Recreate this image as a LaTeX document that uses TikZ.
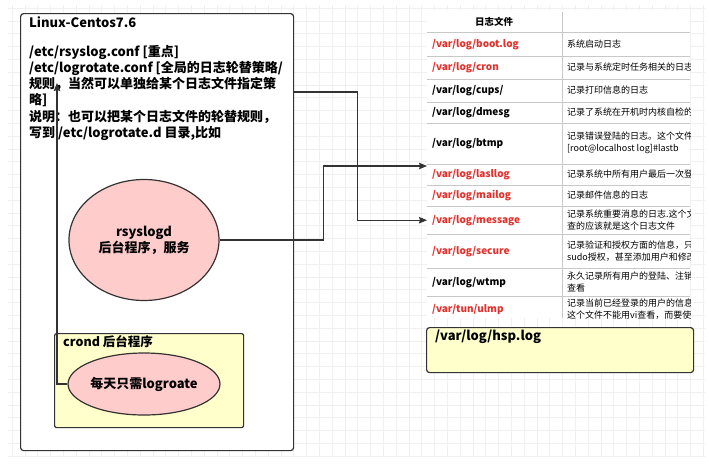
\documentclass[tikz,border=0pt]{standalone}
\usepackage{fontspec}
\setmainfont{Noto Sans CJK SC}
\usetikzlibrary{arrows.meta,positioning,shapes.geometric}

\definecolor{boxline}{HTML}{333333}
\definecolor{logred}{HTML}{E3302B}
\definecolor{pinkfill}{HTML}{FFCCCC}
\definecolor{notefill}{HTML}{FFFFCC}
\definecolor{rowline}{HTML}{C8C8C8}

\begin{document}
\begin{tikzpicture}[x = 1pt, y = -1pt,
  frame/.style = {draw = boxline, line width = 1.2pt, rounded corners = 3pt, anchor = north west, inner sep = 0pt},
  daemon/.style = {draw = boxline, fill = pinkfill, shape = ellipse, line width = 1.2pt, inner sep = 0pt, font = \bfseries\fontsize{13}{16}\selectfont, align = center},
  link/.style = {draw = boxline, line width = 1.1pt, -{Stealth[length = 8pt, width = 6.5pt, inset = 1pt]}},
  filecell/.style = {anchor = north west, text width = 125pt, inner sep = 5pt, align = left, font = \bfseries\fontsize{10}{12}\selectfont},
  desccell/.style = {anchor = west, inner sep = 0pt, align = left, font = \fontsize{9}{12.5}\selectfont},
  gridline/.style = {draw = gray!12, line width = 0.5pt}]
\useasboundingbox (0,0) rectangle (710,475);
\fill[white] (0,0) rectangle (710,475);
% canvas grid
\foreach \gx in {12,24.8,...,705} \draw[gridline] (\gx,5) -- (\gx,457);
\foreach \gy in {8,20.8,...,457} \draw[gridline] (8,\gy) -- (705,\gy);

% left side
\node[frame, fill = white, minimum width = 273pt, minimum height = 437pt] (linux) at (20,13) {};
\node[anchor = west, inner sep = 0pt, font = \bfseries\fontsize{13}{16}\selectfont] (title) at (29,22) {Linux-Centos7.6};
\node[anchor = north west, inner sep = 0pt, align = left, font = \bfseries\fontsize{13}{16.2}\selectfont] (conf) at (29,45)
{/etc/rsyslog.conf [重点]\\
/etc/logrotate.conf [全局的日志轮替策略/\\
规则，当然可以单独给某个日志文件指定策\\
略]\\
说明：也可以把某个日志文件的轮替规则，\\
写到 /etc/logrotate.d 目录,比如};
\coordinate (cfg) at (57,83);
\node[daemon, minimum width = 150pt, minimum height = 121pt] (rsys) at (144,240) {rsyslogd\\后台程序，服务};
\node[frame, fill = notefill, rounded corners = 2pt, minimum width = 189pt, minimum height = 94pt] (crond) at (54,333) {};
\node[anchor = north west, inner sep = 0pt, font = \bfseries\fontsize{12.5}{15}\selectfont] (crondlbl) at ([xshift = 9pt, yshift = -2pt]crond.north west) {crond 后台程序};
\node[daemon, minimum width = 125pt, minimum height = 62pt] (logr) at (144,384) {每天只需logroate};

% log table
\begin{scope}
\clip (427,10) rectangle (690,318);
\fill[white] (427,10) rectangle (690,318);
\node[font = \bfseries\fontsize{9.5}{12}\selectfont] (hdr) at (494,22) {日志文件};
\foreach \i/\ry/\rh/\hue/\file/\desc in {
  1/32/24/logred/{/var/log/boot.log}/{系统启动日志},
  2/56/23/logred/{/var/log/cron}/{记录与系统定时任务相关的日志},
  3/79/23/black/{/var/log/cups/}/{记录打印信息的日志},
  4/102/20/black/{/var/log/dmesg}/{记录了系统在开机时内核自检的信息},
  5/122/42/black/{/var/log/btmp}/{记录错误登陆的日志。这个文件\\{}[root@localhost log]\#lastb},
  6/164/20/logred/{/var/log/lasllog}/{记录系统中所有用户最后一次登录},
  7/184/22/logred/{/var/log/mailog}/{记录邮件信息的日志},
  8/206/28/logred/{/var/log/message}/{记录系统重要消息的日志.这个文件\\查的应该就是这个日志文件},
  9/234/34/logred/{/var/log/secure}/{记录验证和授权方面的信息，只要\\sudo授权，甚至添加用户和修改},
  10/268/28/black/{/var/log/wtmp}/{永久记录所有用户的登陆、注销信息\\查看},
  11/296/26/logred/{/var/tun/ulmp}/{记录当前已经登录的用户的信息\\这个文件不能用vi查看，而要使用}}
{
  \node[filecell, text = \hue, minimum height = \rh pt] (f\i) at (427,\ry) {\file};
  \node[desccell] (d\i) at (567,{\ry+\rh/2}) {\desc};
  \draw[rowline] (f\i.south west) -- ++(263,0);
}
\draw[rowline] (f1.north west) -- ++(263,0);
\draw[rowline] (562,12) -- (562,318);
\end{scope}

\node[frame, fill = notefill, minimum width = 267pt, minimum height = 45pt] (hsp) at (426,327) {};
\node[anchor = west, inner sep = 0pt, font = \bfseries\fontsize{13}{15}\selectfont] (hsplbl) at ([xshift = 9pt, yshift = -10pt]hsp.north west) {/var/log/hsp.log};

% connectors
\draw[link] ([yshift = -79pt]linux.north east) -- ++(63,0) |- (f8.west);
\draw[link] (rsys.east) -- ++(104,0) |- ([yshift = -2pt]f6.north west);
\draw[link] (logr.west) -| (cfg);
\end{tikzpicture}
\end{document}
